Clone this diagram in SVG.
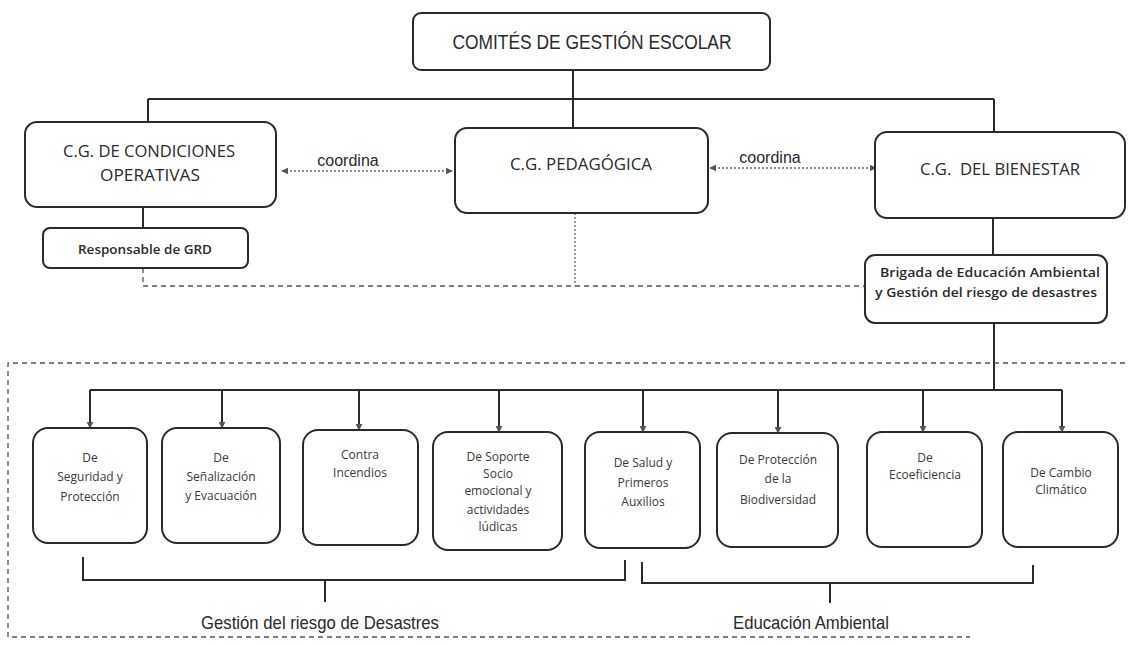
<svg xmlns="http://www.w3.org/2000/svg" width="1129" height="645" viewBox="0 0 1129 645">
<style>
.box{fill:#fff;stroke:#2a2a2a;stroke-width:2}
.ln{fill:none;stroke:#2a2a2a;stroke-width:2}
.dash{fill:none;stroke:#555;stroke-width:1.3;stroke-dasharray:5 4}
.dot{fill:none;stroke:#666;stroke-width:1.3;stroke-dasharray:2 2}
.t1{font-family:"Liberation Sans",Arial,sans-serif;fill:#2a2a2a;text-anchor:middle}
.t2{font-family:"Open Sans","Noto Sans",sans-serif;fill:#2a2a2a;text-anchor:middle}
.t3{font-family:"Open Sans","Noto Sans",sans-serif;fill:#3a3a3a;text-anchor:middle;font-size:12px}
</style>
<defs>
<marker id="ah" viewBox="0 0 10 10" refX="9" refY="5" markerWidth="7" markerHeight="7" orient="auto-start-reverse" markerUnits="userSpaceOnUse">
<path d="M0,0 L10,5 L0,10 z" fill="#555"/>
</marker>
</defs>
<rect width="1129" height="645" fill="#fff"/>

<g id="connectors">
<line class="ln" x1="573" y1="70" x2="573" y2="99"/>
<line class="ln" x1="148" y1="99" x2="994" y2="99"/>
<line class="ln" x1="148" y1="99" x2="148" y2="122"/>
<line class="ln" x1="573" y1="99" x2="573" y2="128"/>
<line class="ln" x1="994" y1="99" x2="994" y2="132"/>
<line class="ln" x1="143" y1="207" x2="143" y2="228"/>
<line class="ln" x1="993" y1="218" x2="993" y2="255"/>
<line class="ln" x1="994" y1="323" x2="994" y2="390"/>
<line class="dot" x1="282" y1="171" x2="452" y2="171" marker-start="url(#ah)" marker-end="url(#ah)"/>
<line class="dot" x1="710" y1="168" x2="876" y2="168" marker-start="url(#ah)" marker-end="url(#ah)"/>
<path class="dash" d="M143,268 V286 H865"/>
<line class="dot" x1="575" y1="213" x2="575" y2="286"/>
<path class="dash" d="M1125,363 H8 V637 H970"/>
<line class="ln" x1="90" y1="390" x2="1062" y2="390"/>
<g marker-end="url(#ah)">
<line class="ln" x1="90" y1="390" x2="90" y2="428"/>
<line class="ln" x1="222" y1="390" x2="222" y2="428"/>
<line class="ln" x1="359" y1="390" x2="359" y2="430"/>
<line class="ln" x1="499" y1="390" x2="499" y2="432"/>
<line class="ln" x1="643" y1="390" x2="643" y2="432"/>
<line class="ln" x1="778" y1="390" x2="778" y2="433"/>
<line class="ln" x1="923" y1="390" x2="923" y2="432"/>
<line class="ln" x1="1062" y1="390" x2="1062" y2="432"/>
</g>
<path class="ln" d="M83,557 V580 H625 V560"/>
<line class="ln" x1="325" y1="580" x2="325" y2="602"/>
<path class="ln" d="M642,562 V583 H1033 V565"/>
<line class="ln" x1="830" y1="583" x2="830" y2="603"/>
</g>

<g id="n-comites">
<rect class="box" x="413" y="13" width="357" height="57" rx="8"/>
<text class="t1" x="592" y="49" font-size="20" textLength="279" lengthAdjust="spacingAndGlyphs">COMITÉS DE GESTIÓN ESCOLAR</text>
</g>
<g id="n-condiciones">
<rect class="box" x="25" y="122" width="251" height="85" rx="12"/>
<text class="t2" x="149" y="157" font-size="16" textLength="172" lengthAdjust="spacingAndGlyphs">C.G. DE CONDICIONES</text>
<text class="t2" x="150" y="181" font-size="16" textLength="100" lengthAdjust="spacingAndGlyphs">OPERATIVAS</text>
</g>
<g id="n-pedagogica">
<rect class="box" x="455" y="128" width="253" height="85" rx="12"/>
<text class="t2" x="581" y="170" font-size="16" textLength="142" lengthAdjust="spacingAndGlyphs">C.G. PEDAGÓGICA</text>
</g>
<g id="n-bienestar">
<rect class="box" x="875" y="132" width="250" height="86" rx="12"/>
<text class="t2" x="1000" y="175" font-size="16" textLength="160" lengthAdjust="spacingAndGlyphs" xml:space="preserve">C.G.  DEL BIENESTAR</text>
</g>
<g id="n-responsable">
<rect class="box" x="43" y="228" width="205" height="40" rx="7"/>
<text class="t2" x="145" y="254" font-size="12" font-weight="600" textLength="134" lengthAdjust="spacingAndGlyphs">Responsable de GRD</text>
</g>
<g id="n-brigada">
<rect class="box" x="865" y="255" width="242" height="68" rx="10"/>
<text class="t2" x="990" y="277" font-size="12" font-weight="600" textLength="220" lengthAdjust="spacingAndGlyphs">Brigada de Educación Ambiental</text>
<text class="t2" x="986" y="297" font-size="12" font-weight="600" textLength="222" lengthAdjust="spacingAndGlyphs">y Gestión del riesgo de desastres</text>
</g>
<text class="t1" x="348" y="166" font-size="16">coordina</text>
<text class="t1" x="770" y="163" font-size="16">coordina</text>

<g id="n-seguridad">
<rect class="box" x="33" y="428" width="114" height="115" rx="15"/>
<text class="t3" x="90" y="462">De</text>
<text class="t3" x="90" y="481">Seguridad y</text>
<text class="t3" x="90" y="501">Protección</text>
</g>
<g id="n-senalizacion">
<rect class="box" x="162" y="428" width="118" height="115" rx="15"/>
<text class="t3" x="221" y="462">De</text>
<text class="t3" x="221" y="481">Señalización</text>
<text class="t3" x="221" y="500">y Evacuación</text>
</g>
<g id="n-incendios">
<rect class="box" x="303" y="430" width="115" height="115" rx="15"/>
<text class="t3" x="360" y="459">Contra</text>
<text class="t3" x="360" y="477">Incendios</text>
</g>
<g id="n-soporte">
<rect class="box" x="433" y="432" width="129" height="118" rx="15"/>
<text class="t3" x="498" y="461">De Soporte</text>
<text class="t3" x="498" y="478">Socio</text>
<text class="t3" x="498" y="495">emocional y</text>
<text class="t3" x="498" y="514">actividades</text>
<text class="t3" x="498" y="531">lúdicas</text>
</g>
<g id="n-salud">
<rect class="box" x="585" y="432" width="115" height="116" rx="15"/>
<text class="t3" x="643" y="467">De Salud y</text>
<text class="t3" x="643" y="487">Primeros</text>
<text class="t3" x="643" y="506">Auxilios</text>
</g>
<g id="n-biodiversidad">
<rect class="box" x="717" y="433" width="121" height="114" rx="15"/>
<text class="t3" x="778" y="464">De Protección</text>
<text class="t3" x="778" y="483">de la</text>
<text class="t3" x="778" y="504">Biodiversidad</text>
</g>
<g id="n-ecoeficiencia">
<rect class="box" x="867" y="432" width="115" height="115" rx="15"/>
<text class="t3" x="925" y="462">De</text>
<text class="t3" x="925" y="479">Ecoeficiencia</text>
</g>
<g id="n-cambio">
<rect class="box" x="1003" y="432" width="115" height="115" rx="15"/>
<text class="t3" x="1061" y="477">De Cambio</text>
<text class="t3" x="1061" y="494">Climático</text>
</g>

<text class="t1" x="320" y="629" font-size="19" textLength="238" lengthAdjust="spacingAndGlyphs">Gestión del riesgo de Desastres</text>
<text class="t1" x="811" y="629" font-size="19" textLength="156" lengthAdjust="spacingAndGlyphs">Educación Ambiental</text>
</svg>
